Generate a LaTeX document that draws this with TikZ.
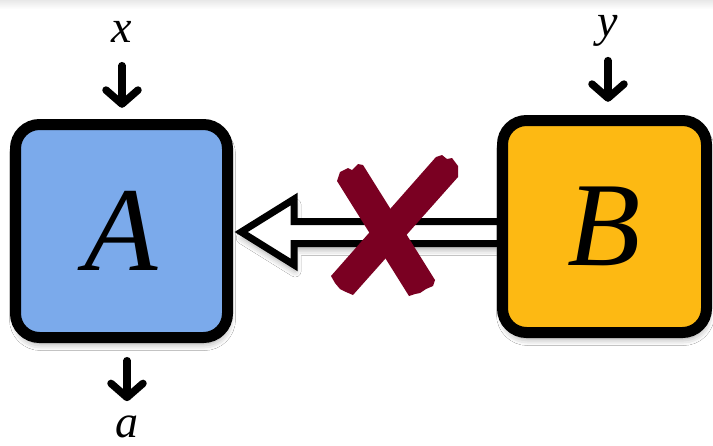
\documentclass[tikz,border=0pt]{standalone}
\usepackage{fontspec}
\setmainfont{Liberation Serif}
\usetikzlibrary{arrows.meta,calc,shadows.blur}
\definecolor{boxblue}{HTML}{7BAAEB}
\definecolor{boxgold}{HTML}{FDB913}
\definecolor{crossred}{HTML}{7A0022}
\tikzset{
  block/.style={draw=black, line width=11pt, rounded corners=24pt, inner sep=0pt,
    blur shadow={shadow xshift=1pt, shadow yshift=-6pt, shadow blur radius=7pt, shadow opacity=40},
    font=\fontsize{120}{120}\selectfont\itshape},
  varlabel/.style={inner sep=0pt, anchor=base, font=\fontsize{46}{46}\selectfont\itshape},
  feed/.style={line width=7.5pt, line cap=round, -{Straight Barb[length=14pt,width=32pt,round]}},
  hollowarrow/.style={draw=black, fill=white, line width=7pt, line join=miter,
    blur shadow={shadow xshift=1pt, shadow yshift=-6pt, shadow blur radius=6pt, shadow opacity=35}},
  cross/.style={fill=crossred}
}
\begin{document}
\begin{tikzpicture}[x=1pt, y=-1pt]
  \useasboundingbox (0,0) rectangle (713,445);
  \fill[white] (0,0) rectangle (713,445);
  \shade[top color=black!9, bottom color=white] (0,0) rectangle (713,9);

  % input and output labels
  \node[varlabel] (xlab) at (122,42) {x};
  \node[varlabel] (ylab) at (608,36) {y};
  \node[varlabel] (alab) at (127,437) {a};

  % coordinates of the two blocks
  \path (121.5,231) coordinate (Ac) (604.5,226.5) coordinate (Bc);

  % blocked influence from B to A
  \node[minimum width=212pt, minimum height=213pt, inner sep=0pt] (A) at (Ac) {};
  \node[minimum width=204pt, minimum height=212pt, inner sep=0pt] (B) at (Bc) {};
  \draw[hollowarrow] ($(A.east)+(13.5,1)$) -- ++(53,-33) -- ++(0,22.5)
    -- ($(B.west)+(-2,-5)$) -- ($(B.west)+(-2,17)$)
    -- ($(A.east)+(66.5,12.5)$) -- ($(A.east)+(66.5,34)$) -- cycle;

  % the two blocks
  \node[block, fill=boxblue, minimum width=212pt, minimum height=213pt] at (Ac) {A};
  \node[block, fill=boxgold, minimum width=204pt, minimum height=212pt] at (Bc) {B};

  % feeds into and out of the blocks
  \draw[feed, shorten <=23.5pt, shorten >=16.5pt] (xlab.south) -- (xlab.south |- A.north);
  \draw[feed, shorten <=14.5pt, shorten >=18.5pt] (ylab.south) -- (ylab.south |- B.north);
  \draw[feed, shorten <=23pt, shorten >=14pt] (alab.north |- A.south) -- (alab.north);

  % brushed cross over the arrow
  \fill[cross] (337,181) -- (340,172) -- (348,168) -- (352,170) -- (358,164) -- (363,165)
    -- (435,280) -- (433,286) -- (426,289) -- (420,293) -- (415,294) -- (409,296) -- cycle;
  \fill[cross] (436,157) -- (442,155) -- (447,159) -- (452,158) -- (458,166) -- (458,177)
    -- (353,295) -- (346,292) -- (340,289) -- (335,283) -- (331,276) -- cycle;
\end{tikzpicture}
\end{document}
